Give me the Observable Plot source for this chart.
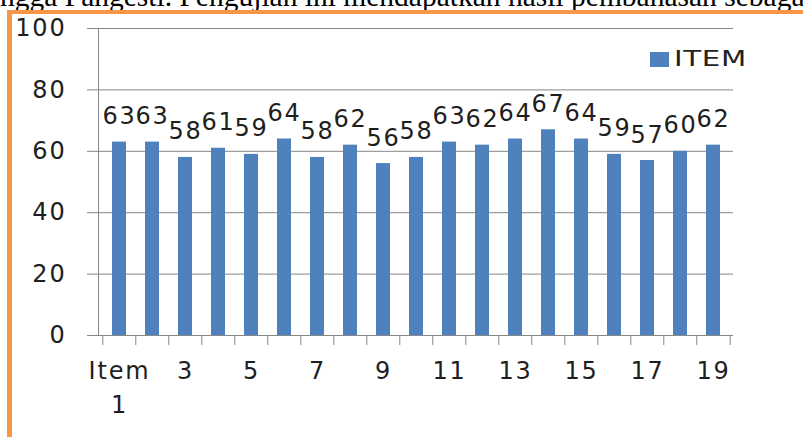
<!DOCTYPE html>
<html><head><meta charset="utf-8">
<script src="https://cdn.jsdelivr.net/npm/d3@7"></script>
<script src="https://cdn.jsdelivr.net/npm/@observablehq/plot@0.6"></script>
<style>
html,body{margin:0;padding:0;background:#fff;width:803px;height:437px;overflow:hidden;position:relative}
#toptext{position:absolute;left:0;top:-17.7px;font-family:"Liberation Serif",serif;font-size:29.5px;line-height:1;white-space:nowrap;color:#000}
#frame{position:absolute;left:7px;top:9.5px;width:900px;height:500px;border-left:5px solid #F79646;border-top:4.5px solid #F79646}
#chart{position:absolute;left:0;top:0}
#chart text{letter-spacing:1.8px}
#legsw{position:absolute;left:650px;top:52px;width:19px;height:15px;background:#4F81BD}
#legtx{position:absolute;left:674px;top:48px;font-family:"DejaVu Sans";font-size:22px;line-height:1;color:#222;transform:scaleX(1.33);transform-origin:left top;letter-spacing:0.5px}
</style></head>
<body>
<div id="toptext">ngga Pangesti. Pengujian ini mendapatkan hasil pembahasan sebaga</div>
<div id="frame"></div>
<div id="chart"></div>
<div id="legsw"></div>
<div id="legtx">ITEM</div>
<script>
const categories = ["Item 1","2","3","4","5","6","7","8","9","10","11","12","13","14","15","16","17","18","19"];
const values = [63,63,58,61,59,64,58,62,56,58,63,62,64,67,64,59,57,60,62];
const yTicks = [0,20,40,60,80,100];
const seriesName = "ITEM";

const data = categories.map((c,i)=>({cat:c, value:values[i]}));
const W = 803, H = 437, mL = 98, mR = 70, mT = 28, mB = 102;
const step = (W - mL - mR) / categories.length;
const labelTicks = categories.filter((d,i)=>i%2===0);
const grey = "#868686";
const ink = "#1e1e1e";

const chart = Plot.plot({
  width: W, height: H,
  marginLeft: mL, marginRight: mR, marginTop: mT, marginBottom: mB,
  style: {fontFamily: "DejaVu Sans", fontSize: "24px", background: "transparent", color: ink, overflow: "visible"},
  x: {domain: categories, paddingInner: 0.58, paddingOuter: 0.29, label: null},
  y: {domain: [0,100], label: null},
  marks: [
    Plot.gridY(yTicks.slice(1), {stroke: grey, strokeOpacity: 1}),
    Plot.frame({anchor: "left", stroke: grey}),
    Plot.barY(data, {x: "cat", y: "value", fill: "#4F81BD"}),
    Plot.ruleY([0], {stroke: grey}),
    Plot.axisY({ticks: yTicks, tickSize: 11, tickPadding: 21, stroke: grey, fill: ink, fontSize: 24, label: null}),
    Plot.axisX({ticks: categories, tickSize: 10, tickFormat: () => "", dx: -step/2, stroke: grey, label: null}),
    Plot.axisX({ticks: [categories[categories.length-1]], tickSize: 10, tickFormat: () => "", dx: step/2, stroke: grey, label: null}),
    Plot.axisX({ticks: labelTicks, tickSize: 0, tickPadding: 19, fontSize: 24, lineHeight: 1.42, fill: ink,
      tickFormat: d => d === "Item 1" ? "Item\n1" : d, label: null}),
    Plot.text(data, {x: "cat", y: "value", text: d => String(d.value), dy: -18, lineAnchor: "bottom", fontSize: 24, fill: ink})
  ]
});
document.getElementById("chart").appendChild(chart);
</script>
</body></html>
